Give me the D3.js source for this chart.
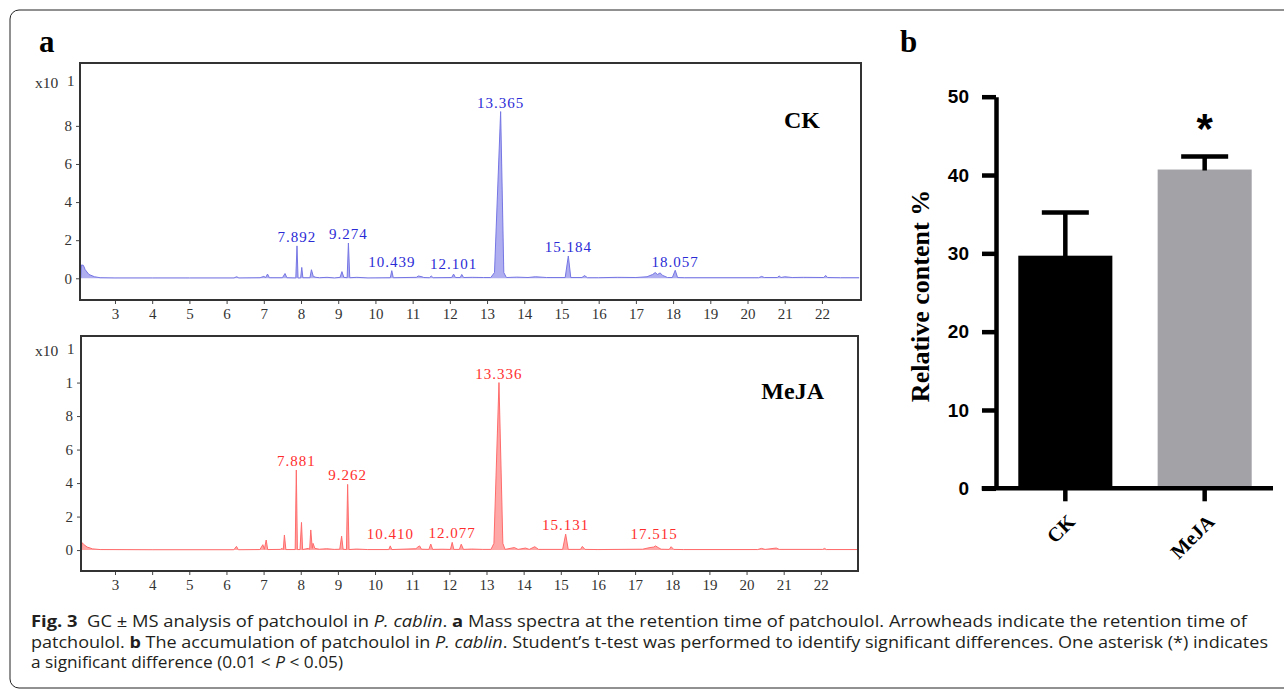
<!DOCTYPE html>
<html>
<head>
<meta charset="utf-8">
<script src="https://cdn.jsdelivr.net/npm/d3@7"></script>
<style>
  body { margin: 0; background: #fff; }
  svg { display: block; }
</style>
</head>
<body>
<div id="chart"></div>
<script>
// ---- data ----
const retentionTicks = [3, 4, 5, 6, 7, 8, 9, 10, 11, 12, 13, 14, 15, 16, 17, 18, 19, 20, 21, 22];
const ckYTicks = [0, 2, 4, 6, 8];
const ckYTickLabels = ["0", "2", "4", "6", "8"];
const mejaYTicks = [0, 2, 4, 6, 8, 10];
const mejaYTickLabels = ["0", "2", "4", "6", "8", "1"];

// chromatogram traces: [retention time (min), abundance (x10)]
const ckTrace = [
  [2.08, 0], [2.1, 0.7], [2.15, 0.68], [2.2, 0.45], [2.3, 0.2], [2.45, 0.08], [2.6, 0.03], [3, 0.02],
  [4, 0.02], [5, 0.02], [6.2, 0.02], [6.27, 0.08], [6.33, 0.02], [6.9, 0.03], [7.0, 0.1], [7.05, 0.04],
  [7.1, 0.22], [7.15, 0.03], [7.5, 0.03], [7.57, 0.25], [7.62, 0.03], [7.86, 0.02], [7.892, 1.7],
  [7.92, 0.02], [7.99, 0.02], [8.02, 0.57], [8.05, 0.03], [8.24, 0.03], [8.28, 0.45], [8.33, 0.1],
  [8.4, 0.05], [8.5, 0.03], [8.7, 0.05], [8.9, 0.02], [9.05, 0.05], [9.1, 0.35], [9.15, 0.05],
  [9.24, 0.03], [9.274, 1.85], [9.31, 0.03], [9.5, 0.05], [9.8, 0.02], [10.4, 0.03], [10.439, 0.4],
  [10.48, 0.03], [11.1, 0.05], [11.15, 0.12], [11.25, 0.08], [11.3, 0.04], [11.45, 0.03], [11.5, 0.12],
  [11.55, 0.03], [12.05, 0.04], [12.101, 0.22], [12.15, 0.04], [12.28, 0.04], [12.32, 0.2], [12.37, 0.04],
  [12.6, 0.05], [12.9, 0.04], [13.1, 0.04], [13.2, 0.3], [13.365, 8.75], [13.45, 0.3], [13.52, 0.04],
  [13.8, 0.06], [14.1, 0.04], [14.3, 0.08], [14.6, 0.04], [15.1, 0.04], [15.184, 1.17], [15.25, 0.04],
  [15.55, 0.04], [15.62, 0.14], [15.7, 0.03], [16.0, 0.03], [16.5, 0.05], [17.0, 0.04], [17.3, 0.08],
  [17.45, 0.2], [17.52, 0.3], [17.58, 0.2], [17.65, 0.28], [17.72, 0.15], [17.85, 0.04], [17.98, 0.04],
  [18.057, 0.42], [18.12, 0.04], [18.3, 0.03], [20.3, 0.03], [20.38, 0.1], [20.45, 0.04], [20.8, 0.04],
  [20.85, 0.12], [20.9, 0.04], [21.0, 0.08], [21.2, 0.04], [21.5, 0.05], [22.05, 0.04], [22.1, 0.15],
  [22.15, 0.04], [22.5, 0.03], [23.0, 0.03]
];
const mejaTrace = [
  [2.1, 0], [2.11, 0.45], [2.15, 0.35], [2.25, 0.18], [2.4, 0.07], [2.6, 0.03], [4, 0.02], [6.2, 0.02],
  [6.27, 0.22], [6.32, 0.02], [6.9, 0.03], [6.98, 0.32], [7.02, 0.05], [7.07, 0.6], [7.11, 0.03],
  [7.45, 0.04], [7.5, 0.1], [7.53, 0.03], [7.56, 0.9], [7.6, 0.03], [7.85, 0.03], [7.881, 4.78],
  [7.91, 0.03], [7.98, 0.03], [8.02, 1.65], [8.05, 0.03], [8.2, 0.1], [8.24, 0.05], [8.27, 1.2],
  [8.31, 0.1], [8.33, 0.4], [8.38, 0.1], [8.5, 0.05], [8.7, 0.08], [8.9, 0.04], [9.05, 0.05], [9.1, 0.83],
  [9.14, 0.05], [9.23, 0.03], [9.262, 3.92], [9.3, 0.03], [9.5, 0.06], [9.8, 0.03], [10.37, 0.03],
  [10.41, 0.25], [10.45, 0.03], [11.1, 0.08], [11.15, 0.18], [11.2, 0.25], [11.25, 0.05], [11.45, 0.04],
  [11.5, 0.36], [11.55, 0.04], [11.8, 0.05], [12.03, 0.04], [12.077, 0.46], [12.12, 0.04], [12.27, 0.04],
  [12.32, 0.35], [12.38, 0.04], [12.6, 0.06], [12.9, 0.04], [13.12, 0.04], [13.2, 0.4], [13.336, 10.0],
  [13.44, 0.4], [13.5, 0.04], [13.75, 0.15], [13.85, 0.04], [14.05, 0.12], [14.15, 0.04], [14.3, 0.2],
  [14.4, 0.04], [15.05, 0.04], [15.131, 0.95], [15.2, 0.04], [15.53, 0.04], [15.58, 0.22], [15.65, 0.04],
  [16.0, 0.03], [17.2, 0.05], [17.4, 0.15], [17.5, 0.18], [17.55, 0.25], [17.62, 0.15], [17.7, 0.05],
  [17.92, 0.04], [17.97, 0.2], [18.04, 0.04], [18.3, 0.03], [20.3, 0.03], [20.4, 0.1], [20.5, 0.04],
  [20.8, 0.12], [20.88, 0.04], [22.05, 0.04], [22.1, 0.1], [22.15, 0.03], [23.0, 0.03]
];

// annotated peaks (label, time, apex height)
const ckPeakLabels = ["7.892", "9.274", "10.439", "12.101", "13.365", "15.184", "18.057"];
const ckPeakTimes = [7.892, 9.274, 10.439, 12.101, 13.365, 15.184, 18.057];
const ckPeakHeights = [1.7, 1.85, 0.4, 0.28, 8.75, 1.17, 0.4];
const mejaPeakLabels = ["7.881", "9.262", "10.410", "12.077", "13.336", "15.131", "17.515"];
const mejaPeakTimes = [7.881, 9.262, 10.41, 12.077, 13.336, 15.131, 17.515];
const mejaPeakHeights = [4.78, 3.92, 0.4, 0.5, 10.0, 0.95, 0.4];

// panel b
const groups = ["CK", "MeJA"];
const meanContent = [29.7, 40.7];
const errContent = [5.5, 1.65];
const barTicks = [0, 10, 20, 30, 40, 50];

const captionLines = [
  [["b", "Fig. 3"], ["", "  GC ± MS analysis of patchoulol in "], ["i", "P. cablin"], ["", ". "], ["b", "a"],
   ["", " Mass spectra at the retention time of patchoulol. Arrowheads indicate the retention time of"]],
  [["", "patchoulol. "], ["b", "b"], ["", " The accumulation of patchoulol in "], ["i", "P. cablin"],
   ["", ". Student’s t-test was performed to identify significant differences. One asterisk (*) indicates"]],
  [["", "a significant difference (0.01 < "], ["i", "P"], ["", " < 0.05)"]]
];

// ---- drawing ----
const W = 1284, H = 691;
const svg = d3.select("#chart").append("svg").attr("width", W).attr("height", H);

svg.append("rect")
  .attr("x", 10).attr("y", 10).attr("width", 1300).attr("height", 678).attr("rx", 9)
  .style("fill", "none").style("stroke", "#222").style("stroke-width", 1);

const serif = "'Liberation Serif', 'DejaVu Serif', serif";
const sans = "'Liberation Sans', Arial, sans-serif";

svg.append("text").attr("x", 39).attr("y", 52).text("a")
  .style("font-family", serif).style("font-weight", "bold").style("font-size", "31px");
svg.append("text").attr("x", 900).attr("y", 52).text("b")
  .style("font-family", serif).style("font-weight", "bold").style("font-size", "31px");

function drawChrom(cfg) {
  const x = d3.scaleLinear().domain(cfg.xDomain).range([cfg.left, cfg.right]);
  const y = d3.scaleLinear().domain(cfg.yDomain).range([cfg.bottom, cfg.top]);
  const g = svg.append("g");

  const clipId = "clip-" + cfg.name;
  svg.append("clipPath").attr("id", clipId).append("rect")
    .attr("x", cfg.left).attr("y", cfg.top)
    .attr("width", cfg.right - cfg.left).attr("height", cfg.bottom - cfg.top);

  const plot = g.append("g").attr("clip-path", `url(#${clipId})`);

  plot.append("path").datum(cfg.trace)
    .attr("d", d3.area().x((d) => x(d[0])).y0(y(0)).y1((d) => y(d[1])))
    .style("fill", cfg.fill).style("stroke", "none");

  plot.append("path").datum(cfg.trace)
    .attr("d", d3.line().x((d) => x(d[0])).y((d) => y(d[1])))
    .style("fill", "none").style("stroke", cfg.line).style("stroke-width", 1);

  // x axis
  const xAxis = g.append("g").attr("transform", `translate(0,${cfg.bottom})`)
    .call(d3.axisBottom(x).tickValues(retentionTicks).tickSize(4).tickSizeOuter(0).tickPadding(4));
  xAxis.select(".domain").remove();
  xAxis.selectAll("line").style("stroke", "#444");
  xAxis.selectAll("text").style("font-family", serif).style("font-size", "15px").style("fill", "#333");

  // y axis
  const yAxis = g.append("g").attr("transform", `translate(${cfg.left},0)`)
    .call(d3.axisLeft(y).tickValues(cfg.yTicks).tickFormat((d, i) => cfg.yTickLabels[i])
      .tickSize(4).tickSizeOuter(0).tickPadding(4));
  yAxis.select(".domain").remove();
  yAxis.selectAll("line").style("stroke", "#444");
  yAxis.selectAll("text").style("font-family", serif).style("font-size", "15px").style("fill", "#333");

  // frame
  g.append("rect")
    .attr("x", cfg.left).attr("y", cfg.top)
    .attr("width", cfg.right - cfg.left).attr("height", cfg.bottom - cfg.top)
    .style("fill", "none").style("stroke", "#333").style("stroke-width", 2);

  // exponent label
  g.append("text").attr("x", 35).attr("y", cfg.top + cfg.expOffset).text("x10")
    .style("font-family", serif).style("font-size", "15.5px").style("fill", "#333");
  g.append("text").attr("x", 67).attr("y", cfg.top + cfg.expOffset - 2).text("1")
    .style("font-family", serif).style("font-size", "15px").style("fill", "#333");

  // peak labels
  g.selectAll(".peak").data(cfg.peakLabels).enter().append("text")
    .attr("class", "peak")
    .attr("x", (d, i) => x(cfg.peakTimes[i]))
    .attr("y", (d, i) => y(cfg.peakHeights[i]) - 4)
    .attr("text-anchor", "middle")
    .style("font-family", serif).style("font-size", "15px").style("letter-spacing", "1px")
    .style("fill", cfg.labelColor)
    .text((d) => d);

  g.append("text").attr("x", cfg.nameX).attr("y", cfg.nameY).attr("text-anchor", "end")
    .text(cfg.name)
    .style("font-family", serif).style("font-weight", "bold").style("font-size", "24px");
}

drawChrom({
  name: "CK", left: 80, right: 861, top: 63, bottom: 300,
  xDomain: [2.06, 23.05], yDomain: [-1.14, 11.3],
  yTicks: ckYTicks, yTickLabels: ckYTickLabels, expOffset: 25,
  trace: ckTrace, fill: "rgba(120,120,232,0.6)", line: "#7676e4", labelColor: "#2b2bd6",
  peakLabels: ckPeakLabels, peakTimes: ckPeakTimes, peakHeights: ckPeakHeights,
  nameX: 820, nameY: 128
});

drawChrom({
  name: "MeJA", left: 81, right: 858, top: 336, bottom: 571,
  xDomain: [2.085, 23.0], yDomain: [-1.25, 12.78],
  yTicks: mejaYTicks, yTickLabels: mejaYTickLabels, expOffset: 20,
  trace: mejaTrace, fill: "rgba(255,110,110,0.6)", line: "#ff6b6b", labelColor: "#ff2e2e",
  peakLabels: mejaPeakLabels, peakTimes: mejaPeakTimes, peakHeights: mejaPeakHeights,
  nameX: 824, nameY: 399
});

// ---- panel b: bar chart ----
const bx = d3.scaleBand().domain(groups).range([996, 1274]).paddingInner(0.325).paddingOuter(0.16);
const by = d3.scaleLinear().domain([0, 50]).range([488.3, 96.7]);
const barG = svg.append("g");
const barColors = ["#000000", "#a3a2a7"];

barG.selectAll(".bar").data(groups).enter().append("rect")
  .attr("class", "bar")
  .attr("x", (d) => bx(d)).attr("width", bx.bandwidth())
  .attr("y", (d, i) => by(meanContent[i]))
  .attr("height", (d, i) => by(0) - by(meanContent[i]))
  .style("fill", (d, i) => barColors[i]);

const capHalf = 23.5;
barG.selectAll(".err").data(groups).enter().append("path")
  .attr("class", "err")
  .attr("d", (d, i) => {
    const cx = bx(d) + bx.bandwidth() / 2;
    const top = by(meanContent[i] + errContent[i]);
    return `M${cx},${by(meanContent[i]) + 1}V${top}M${cx - capHalf},${top}H${cx + capHalf}`;
  })
  .style("fill", "none").style("stroke", "#000").style("stroke-width", 4.5);

const yAxisB = barG.append("g").attr("transform", "translate(996,0)")
  .call(d3.axisLeft(by).tickValues(barTicks).tickSize(14).tickSizeOuter(0).tickPadding(13));
yAxisB.select(".domain").style("stroke", "#000").style("stroke-width", 4.5);
yAxisB.selectAll("line").style("stroke", "#000").style("stroke-width", 4.5);
yAxisB.selectAll("text").style("font-family", sans).style("font-weight", "bold")
  .style("font-size", "19px").style("fill", "#000");

const xAxisB = barG.append("g").attr("transform", `translate(0,${by(0)})`)
  .call(d3.axisBottom(bx).tickSize(13).tickSizeOuter(0).tickFormat(""));
xAxisB.select(".domain").attr("d", `M981.7,0H1273`).style("stroke", "#000").style("stroke-width", 4.5);
xAxisB.selectAll("line").style("stroke", "#000").style("stroke-width", 4.5);

barG.selectAll(".xlab").data(groups).enter().append("text")
  .attr("class", "xlab")
  .attr("transform", (d) => `translate(${bx(d) + bx.bandwidth() / 2 + 11},523) rotate(-45)`)
  .attr("text-anchor", "end")
  .style("font-family", serif).style("font-weight", "bold").style("font-size", "20px")
  .text((d) => d);

barG.append("text")
  .attr("transform", "translate(929,296) rotate(-90)")
  .attr("text-anchor", "middle")
  .style("font-family", serif).style("font-weight", "bold").style("font-size", "26px")
  .text("Relative content %");

barG.append("text")
  .attr("x", bx("MeJA") + bx.bandwidth() / 2).attr("y", 143)
  .attr("text-anchor", "middle")
  .style("font-family", sans).style("font-weight", "bold").style("font-size", "42px")
  .text("*");

// ---- caption ----
const capBase = [627, 648, 668];
const capWidth = [1216, 1237, 312];
captionLines.forEach((parts, li) => {
  const t = svg.append("text").attr("x", 31).attr("y", capBase[li])
    .attr("textLength", capWidth[li]).attr("lengthAdjust", "spacingAndGlyphs")
    .style("font-family", "'Open Sans', 'Noto Sans', sans-serif").style("font-size", "16px")
    .style("fill", "#231f20").style("white-space", "pre");
  parts.forEach((p) => {
    t.append("tspan").text(p[1])
      .style("font-weight", p[0] === "b" ? "bold" : "normal")
      .style("font-style", p[0] === "i" ? "italic" : "normal");
  });
});
</script>
</body>
</html>
